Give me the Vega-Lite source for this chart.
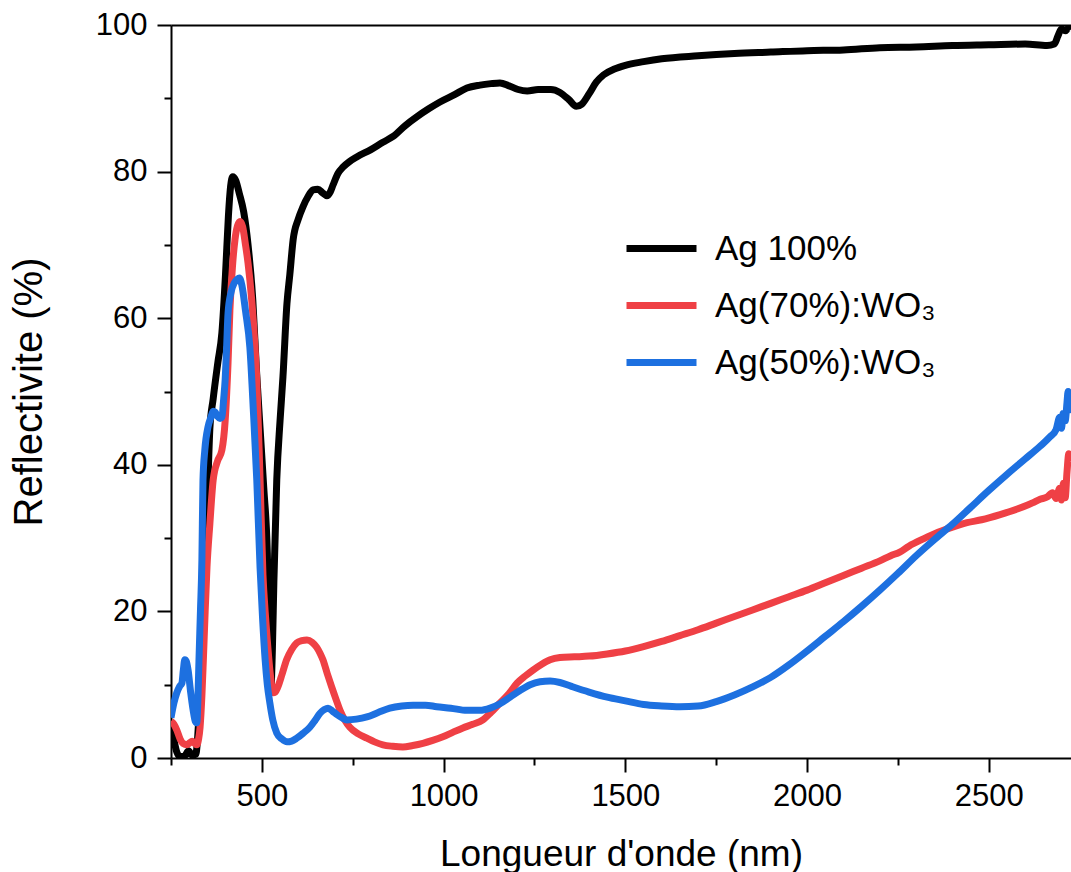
{
  "$schema": "https://vega.github.io/schema/vega-lite/v6.json",
  "width": 900,
  "height": 733,
  "autosize": "none",
  "padding": {"left": 171, "top": 25, "right": 0, "bottom": 114},
  "background": "white",
  "config": {
    "view": {"stroke": null},
    "axis": {
      "grid": false,
      "domainColor": "black",
      "domainWidth": 2,
      "tickColor": "black",
      "tickWidth": 2,
      "labelFont": "Liberation Sans",
      "labelFontSize": 31,
      "labelColor": "black",
      "titleFont": "Liberation Sans",
      "titleFontWeight": "normal",
      "titleColor": "black",
      "titleFontSize": 37
    },
    "legend": {"labelFont": "Liberation Sans"}
  },
  "data": {"values": [
    {"s":"Ag 100%","w":250,"r":4.5},{"s":"Ag 100%","w":258,"r":2.5},{"s":"Ag 100%","w":266,"r":0.8},{"s":"Ag 100%","w":275,"r":0.2},{"s":"Ag 100%","w":288,"r":0.3},{"s":"Ag 100%","w":298,"r":1.0},{"s":"Ag 100%","w":308,"r":0.4},{"s":"Ag 100%","w":318,"r":0.5},{"s":"Ag 100%","w":326,"r":5},{"s":"Ag 100%","w":333,"r":13},{"s":"Ag 100%","w":343,"r":24},{"s":"Ag 100%","w":350,"r":35},{"s":"Ag 100%","w":357,"r":45},{"s":"Ag 100%","w":366,"r":49},{"s":"Ag 100%","w":379,"r":54},{"s":"Ag 100%","w":390,"r":58},{"s":"Ag 100%","w":400,"r":66},{"s":"Ag 100%","w":408,"r":74},{"s":"Ag 100%","w":414,"r":78},{"s":"Ag 100%","w":420,"r":79.3},{"s":"Ag 100%","w":428,"r":78.8},{"s":"Ag 100%","w":438,"r":77},{"s":"Ag 100%","w":450,"r":74.5},{"s":"Ag 100%","w":462,"r":70},{"s":"Ag 100%","w":475,"r":62.5},{"s":"Ag 100%","w":485,"r":53},{"s":"Ag 100%","w":495,"r":45},{"s":"Ag 100%","w":505,"r":37},{"s":"Ag 100%","w":515,"r":28},{"s":"Ag 100%","w":521,"r":15},{"s":"Ag 100%","w":525,"r":9.7},{"s":"Ag 100%","w":529,"r":15},{"s":"Ag 100%","w":533,"r":24},{"s":"Ag 100%","w":541,"r":38},{"s":"Ag 100%","w":550,"r":46},{"s":"Ag 100%","w":558,"r":52},{"s":"Ag 100%","w":569,"r":62},{"s":"Ag 100%","w":577,"r":66},{"s":"Ag 100%","w":586,"r":70.7},{"s":"Ag 100%","w":600,"r":73.5},{"s":"Ag 100%","w":613,"r":75.2},{"s":"Ag 100%","w":627,"r":76.6},{"s":"Ag 100%","w":641,"r":77.5},{"s":"Ag 100%","w":654,"r":77.6},{"s":"Ag 100%","w":667,"r":77.1},{"s":"Ag 100%","w":679,"r":76.7},{"s":"Ag 100%","w":688,"r":77.2},{"s":"Ag 100%","w":696,"r":78.2},{"s":"Ag 100%","w":710,"r":79.8},{"s":"Ag 100%","w":723,"r":80.6},{"s":"Ag 100%","w":742,"r":81.4},{"s":"Ag 100%","w":761,"r":82},{"s":"Ag 100%","w":800,"r":83},{"s":"Ag 100%","w":833,"r":84},{"s":"Ag 100%","w":861,"r":84.8},{"s":"Ag 100%","w":895,"r":86.3},{"s":"Ag 100%","w":927,"r":87.5},{"s":"Ag 100%","w":960,"r":88.6},{"s":"Ag 100%","w":990,"r":89.5},{"s":"Ag 100%","w":1030,"r":90.5},{"s":"Ag 100%","w":1064,"r":91.4},{"s":"Ag 100%","w":1100,"r":91.8},{"s":"Ag 100%","w":1130,"r":92},{"s":"Ag 100%","w":1155,"r":92.1},{"s":"Ag 100%","w":1180,"r":91.7},{"s":"Ag 100%","w":1205,"r":91.2},{"s":"Ag 100%","w":1230,"r":91},{"s":"Ag 100%","w":1260,"r":91.2},{"s":"Ag 100%","w":1295,"r":91.2},{"s":"Ag 100%","w":1320,"r":90.8},{"s":"Ag 100%","w":1345,"r":89.8},{"s":"Ag 100%","w":1365,"r":88.9},{"s":"Ag 100%","w":1380,"r":89.2},{"s":"Ag 100%","w":1400,"r":90.6},{"s":"Ag 100%","w":1420,"r":92.2},{"s":"Ag 100%","w":1440,"r":93.2},{"s":"Ag 100%","w":1470,"r":94},{"s":"Ag 100%","w":1500,"r":94.5},{"s":"Ag 100%","w":1550,"r":95},{"s":"Ag 100%","w":1600,"r":95.4},{"s":"Ag 100%","w":1700,"r":95.8},{"s":"Ag 100%","w":1800,"r":96.1},{"s":"Ag 100%","w":1900,"r":96.3},{"s":"Ag 100%","w":2000,"r":96.5},{"s":"Ag 100%","w":2100,"r":96.6},{"s":"Ag 100%","w":2200,"r":96.9},{"s":"Ag 100%","w":2300,"r":97.0},{"s":"Ag 100%","w":2400,"r":97.2},{"s":"Ag 100%","w":2500,"r":97.3},{"s":"Ag 100%","w":2600,"r":97.4},{"s":"Ag 100%","w":2660,"r":97.2},{"s":"Ag 100%","w":2680,"r":97.4},{"s":"Ag 100%","w":2690,"r":98.5},{"s":"Ag 100%","w":2700,"r":99.5},{"s":"Ag 100%","w":2710,"r":99.2},{"s":"Ag 100%","w":2720,"r":99.6},{"s":"Ag 100%","w":2726,"r":99.4},

    {"s":"Ag(70%):WO₃","w":250,"r":5},{"s":"Ag(70%):WO₃","w":258,"r":4.6},{"s":"Ag(70%):WO₃","w":266,"r":3.8},{"s":"Ag(70%):WO₃","w":275,"r":2.6},{"s":"Ag(70%):WO₃","w":283,"r":2},{"s":"Ag(70%):WO₃","w":294,"r":1.8},{"s":"Ag(70%):WO₃","w":302,"r":2.1},{"s":"Ag(70%):WO₃","w":308,"r":2.3},{"s":"Ag(70%):WO₃","w":315,"r":2},{"s":"Ag(70%):WO₃","w":321,"r":1.8},{"s":"Ag(70%):WO₃","w":326,"r":2.6},{"s":"Ag(70%):WO₃","w":330,"r":4.2},{"s":"Ag(70%):WO₃","w":335,"r":8.5},{"s":"Ag(70%):WO₃","w":339,"r":13.4},{"s":"Ag(70%):WO₃","w":344,"r":20},{"s":"Ag(70%):WO₃","w":349,"r":26},{"s":"Ag(70%):WO₃","w":357,"r":32},{"s":"Ag(70%):WO₃","w":366,"r":37.9},{"s":"Ag(70%):WO₃","w":378,"r":40.5},{"s":"Ag(70%):WO₃","w":390,"r":42},{"s":"Ag(70%):WO₃","w":399,"r":46},{"s":"Ag(70%):WO₃","w":407,"r":54},{"s":"Ag(70%):WO₃","w":412,"r":61},{"s":"Ag(70%):WO₃","w":419,"r":67},{"s":"Ag(70%):WO₃","w":426,"r":70.7},{"s":"Ag(70%):WO₃","w":433,"r":72.6},{"s":"Ag(70%):WO₃","w":440,"r":73.2},{"s":"Ag(70%):WO₃","w":447,"r":72.5},{"s":"Ag(70%):WO₃","w":455,"r":70},{"s":"Ag(70%):WO₃","w":462,"r":67.5},{"s":"Ag(70%):WO₃","w":472,"r":62.5},{"s":"Ag(70%):WO₃","w":480,"r":57},{"s":"Ag(70%):WO₃","w":486,"r":51.6},{"s":"Ag(70%):WO₃","w":495,"r":38},{"s":"Ag(70%):WO₃","w":503,"r":25},{"s":"Ag(70%):WO₃","w":509,"r":20},{"s":"Ag(70%):WO₃","w":515,"r":16},{"s":"Ag(70%):WO₃","w":522,"r":12},{"s":"Ag(70%):WO₃","w":527,"r":9.8},{"s":"Ag(70%):WO₃","w":531,"r":8.9},{"s":"Ag(70%):WO₃","w":537,"r":9},{"s":"Ag(70%):WO₃","w":544,"r":9.7},{"s":"Ag(70%):WO₃","w":556,"r":11.5},{"s":"Ag(70%):WO₃","w":568,"r":13.4},{"s":"Ag(70%):WO₃","w":582,"r":14.8},{"s":"Ag(70%):WO₃","w":596,"r":15.7},{"s":"Ag(70%):WO₃","w":610,"r":16},{"s":"Ag(70%):WO₃","w":624,"r":16.1},{"s":"Ag(70%):WO₃","w":638,"r":15.8},{"s":"Ag(70%):WO₃","w":651,"r":15.1},{"s":"Ag(70%):WO₃","w":660,"r":14.3},{"s":"Ag(70%):WO₃","w":668,"r":13.4},{"s":"Ag(70%):WO₃","w":680,"r":11.5},{"s":"Ag(70%):WO₃","w":692,"r":9.7},{"s":"Ag(70%):WO₃","w":704,"r":8},{"s":"Ag(70%):WO₃","w":715,"r":6.5},{"s":"Ag(70%):WO₃","w":728,"r":5.2},{"s":"Ag(70%):WO₃","w":742,"r":4.2},{"s":"Ag(70%):WO₃","w":765,"r":3.3},{"s":"Ag(70%):WO₃","w":789,"r":2.7},{"s":"Ag(70%):WO₃","w":810,"r":2.2},{"s":"Ag(70%):WO₃","w":833,"r":1.8},{"s":"Ag(70%):WO₃","w":860,"r":1.6},{"s":"Ag(70%):WO₃","w":888,"r":1.5},{"s":"Ag(70%):WO₃","w":915,"r":1.7},{"s":"Ag(70%):WO₃","w":943,"r":2},{"s":"Ag(70%):WO₃","w":970,"r":2.4},{"s":"Ag(70%):WO₃","w":998,"r":2.9},{"s":"Ag(70%):WO₃","w":1025,"r":3.5},{"s":"Ag(70%):WO₃","w":1053,"r":4.1},{"s":"Ag(70%):WO₃","w":1080,"r":4.6},{"s":"Ag(70%):WO₃","w":1108,"r":5.2},{"s":"Ag(70%):WO₃","w":1130,"r":6.2},{"s":"Ag(70%):WO₃","w":1155,"r":7.5},{"s":"Ag(70%):WO₃","w":1180,"r":8.8},{"s":"Ag(70%):WO₃","w":1202,"r":10.2},{"s":"Ag(70%):WO₃","w":1225,"r":11.2},{"s":"Ag(70%):WO₃","w":1246,"r":12},{"s":"Ag(70%):WO₃","w":1270,"r":12.8},{"s":"Ag(70%):WO₃","w":1293,"r":13.4},{"s":"Ag(70%):WO₃","w":1320,"r":13.7},{"s":"Ag(70%):WO₃","w":1360,"r":13.8},{"s":"Ag(70%):WO₃","w":1400,"r":13.9},{"s":"Ag(70%):WO₃","w":1450,"r":14.2},{"s":"Ag(70%):WO₃","w":1500,"r":14.6},{"s":"Ag(70%):WO₃","w":1550,"r":15.2},{"s":"Ag(70%):WO₃","w":1600,"r":15.9},{"s":"Ag(70%):WO₃","w":1650,"r":16.7},{"s":"Ag(70%):WO₃","w":1700,"r":17.5},{"s":"Ag(70%):WO₃","w":1750,"r":18.4},{"s":"Ag(70%):WO₃","w":1800,"r":19.3},{"s":"Ag(70%):WO₃","w":1850,"r":20.2},{"s":"Ag(70%):WO₃","w":1900,"r":21.1},{"s":"Ag(70%):WO₃","w":1950,"r":22},{"s":"Ag(70%):WO₃","w":2000,"r":22.9},{"s":"Ag(70%):WO₃","w":2050,"r":23.9},{"s":"Ag(70%):WO₃","w":2100,"r":24.9},{"s":"Ag(70%):WO₃","w":2150,"r":25.9},{"s":"Ag(70%):WO₃","w":2200,"r":26.9},{"s":"Ag(70%):WO₃","w":2230,"r":27.6},{"s":"Ag(70%):WO₃","w":2255,"r":28.1},{"s":"Ag(70%):WO₃","w":2280,"r":28.9},{"s":"Ag(70%):WO₃","w":2320,"r":29.9},{"s":"Ag(70%):WO₃","w":2360,"r":30.8},{"s":"Ag(70%):WO₃","w":2400,"r":31.5},{"s":"Ag(70%):WO₃","w":2440,"r":32.1},{"s":"Ag(70%):WO₃","w":2480,"r":32.5},{"s":"Ag(70%):WO₃","w":2531,"r":33.2},{"s":"Ag(70%):WO₃","w":2580,"r":34},{"s":"Ag(70%):WO₃","w":2620,"r":34.8},{"s":"Ag(70%):WO₃","w":2641,"r":35.3},{"s":"Ag(70%):WO₃","w":2660,"r":35.6},{"s":"Ag(70%):WO₃","w":2675,"r":36.2},{"s":"Ag(70%):WO₃","w":2685,"r":35.4},{"s":"Ag(70%):WO₃","w":2695,"r":36.8},{"s":"Ag(70%):WO₃","w":2700,"r":35.2},{"s":"Ag(70%):WO₃","w":2705,"r":37.5},{"s":"Ag(70%):WO₃","w":2710,"r":35.5},{"s":"Ag(70%):WO₃","w":2715,"r":39},{"s":"Ag(70%):WO₃","w":2720,"r":41.5},{"s":"Ag(70%):WO₃","w":2726,"r":40.5},

    {"s":"Ag(50%):WO₃","w":250,"r":5.5},{"s":"Ag(50%):WO₃","w":258,"r":7.5},{"s":"Ag(50%):WO₃","w":266,"r":8.9},{"s":"Ag(50%):WO₃","w":274,"r":9.8},{"s":"Ag(50%):WO₃","w":280,"r":10.2},{"s":"Ag(50%):WO₃","w":284,"r":12},{"s":"Ag(50%):WO₃","w":288,"r":13.4},{"s":"Ag(50%):WO₃","w":292,"r":13.2},{"s":"Ag(50%):WO₃","w":297,"r":12},{"s":"Ag(50%):WO₃","w":304,"r":9},{"s":"Ag(50%):WO₃","w":311,"r":6.5},{"s":"Ag(50%):WO₃","w":317,"r":5},{"s":"Ag(50%):WO₃","w":321,"r":4.8},{"s":"Ag(50%):WO₃","w":324,"r":8},{"s":"Ag(50%):WO₃","w":327,"r":13.4},{"s":"Ag(50%):WO₃","w":331,"r":20},{"s":"Ag(50%):WO₃","w":335,"r":27},{"s":"Ag(50%):WO₃","w":338,"r":37.9},{"s":"Ag(50%):WO₃","w":343,"r":42},{"s":"Ag(50%):WO₃","w":352,"r":45.2},{"s":"Ag(50%):WO₃","w":360,"r":46.5},{"s":"Ag(50%):WO₃","w":366,"r":47.3},{"s":"Ag(50%):WO₃","w":371,"r":47.2},{"s":"Ag(50%):WO₃","w":378,"r":46.6},{"s":"Ag(50%):WO₃","w":385,"r":46.3},{"s":"Ag(50%):WO₃","w":390,"r":46.5},{"s":"Ag(50%):WO₃","w":395,"r":49},{"s":"Ag(50%):WO₃","w":399,"r":51.6},{"s":"Ag(50%):WO₃","w":403,"r":56},{"s":"Ag(50%):WO₃","w":407,"r":60.7},{"s":"Ag(50%):WO₃","w":415,"r":63.5},{"s":"Ag(50%):WO₃","w":424,"r":64.8},{"s":"Ag(50%):WO₃","w":432,"r":65.3},{"s":"Ag(50%):WO₃","w":438,"r":65.5},{"s":"Ag(50%):WO₃","w":445,"r":64.5},{"s":"Ag(50%):WO₃","w":455,"r":61},{"s":"Ag(50%):WO₃","w":467,"r":56},{"s":"Ag(50%):WO₃","w":477,"r":47},{"s":"Ag(50%):WO₃","w":486,"r":37.9},{"s":"Ag(50%):WO₃","w":495,"r":26},{"s":"Ag(50%):WO₃","w":502,"r":19},{"s":"Ag(50%):WO₃","w":509,"r":13.4},{"s":"Ag(50%):WO₃","w":515,"r":10},{"s":"Ag(50%):WO₃","w":522,"r":7.5},{"s":"Ag(50%):WO₃","w":530,"r":5.2},{"s":"Ag(50%):WO₃","w":541,"r":3.4},{"s":"Ag(50%):WO₃","w":555,"r":2.6},{"s":"Ag(50%):WO₃","w":569,"r":2.2},{"s":"Ag(50%):WO₃","w":582,"r":2.3},{"s":"Ag(50%):WO₃","w":596,"r":2.7},{"s":"Ag(50%):WO₃","w":614,"r":3.4},{"s":"Ag(50%):WO₃","w":632,"r":4.2},{"s":"Ag(50%):WO₃","w":646,"r":5.1},{"s":"Ag(50%):WO₃","w":660,"r":6.1},{"s":"Ag(50%):WO₃","w":672,"r":6.6},{"s":"Ag(50%):WO₃","w":682,"r":6.8},{"s":"Ag(50%):WO₃","w":694,"r":6.4},{"s":"Ag(50%):WO₃","w":707,"r":5.9},{"s":"Ag(50%):WO₃","w":720,"r":5.5},{"s":"Ag(50%):WO₃","w":734,"r":5.2},{"s":"Ag(50%):WO₃","w":760,"r":5.3},{"s":"Ag(50%):WO₃","w":789,"r":5.6},{"s":"Ag(50%):WO₃","w":820,"r":6.2},{"s":"Ag(50%):WO₃","w":852,"r":6.8},{"s":"Ag(50%):WO₃","w":885,"r":7.1},{"s":"Ag(50%):WO₃","w":916,"r":7.2},{"s":"Ag(50%):WO₃","w":950,"r":7.2},{"s":"Ag(50%):WO₃","w":981,"r":7},{"s":"Ag(50%):WO₃","w":1020,"r":6.8},{"s":"Ag(50%):WO₃","w":1064,"r":6.5},{"s":"Ag(50%):WO₃","w":1100,"r":6.5},{"s":"Ag(50%):WO₃","w":1128,"r":6.8},{"s":"Ag(50%):WO₃","w":1155,"r":7.4},{"s":"Ag(50%):WO₃","w":1183,"r":8.3},{"s":"Ag(50%):WO₃","w":1210,"r":9.2},{"s":"Ag(50%):WO₃","w":1238,"r":10},{"s":"Ag(50%):WO₃","w":1265,"r":10.4},{"s":"Ag(50%):WO₃","w":1293,"r":10.5},{"s":"Ag(50%):WO₃","w":1320,"r":10.3},{"s":"Ag(50%):WO₃","w":1350,"r":9.8},{"s":"Ag(50%):WO₃","w":1400,"r":9.0},{"s":"Ag(50%):WO₃","w":1450,"r":8.3},{"s":"Ag(50%):WO₃","w":1500,"r":7.8},{"s":"Ag(50%):WO₃","w":1550,"r":7.3},{"s":"Ag(50%):WO₃","w":1600,"r":7.1},{"s":"Ag(50%):WO₃","w":1650,"r":7.0},{"s":"Ag(50%):WO₃","w":1700,"r":7.1},{"s":"Ag(50%):WO₃","w":1750,"r":7.7},{"s":"Ag(50%):WO₃","w":1800,"r":8.6},{"s":"Ag(50%):WO₃","w":1850,"r":9.7},{"s":"Ag(50%):WO₃","w":1900,"r":11},{"s":"Ag(50%):WO₃","w":1950,"r":12.7},{"s":"Ag(50%):WO₃","w":2000,"r":14.6},{"s":"Ag(50%):WO₃","w":2050,"r":16.6},{"s":"Ag(50%):WO₃","w":2100,"r":18.6},{"s":"Ag(50%):WO₃","w":2150,"r":20.7},{"s":"Ag(50%):WO₃","w":2200,"r":22.9},{"s":"Ag(50%):WO₃","w":2250,"r":25.2},{"s":"Ag(50%):WO₃","w":2300,"r":27.6},{"s":"Ag(50%):WO₃","w":2350,"r":29.8},{"s":"Ag(50%):WO₃","w":2400,"r":31.9},{"s":"Ag(50%):WO₃","w":2450,"r":34.2},{"s":"Ag(50%):WO₃","w":2500,"r":36.5},{"s":"Ag(50%):WO₃","w":2550,"r":38.7},{"s":"Ag(50%):WO₃","w":2600,"r":40.8},{"s":"Ag(50%):WO₃","w":2640,"r":42.5},{"s":"Ag(50%):WO₃","w":2668,"r":43.8},{"s":"Ag(50%):WO₃","w":2685,"r":44.8},{"s":"Ag(50%):WO₃","w":2695,"r":46.5},{"s":"Ag(50%):WO₃","w":2700,"r":45},{"s":"Ag(50%):WO₃","w":2704,"r":47},{"s":"Ag(50%):WO₃","w":2710,"r":46},{"s":"Ag(50%):WO₃","w":2715,"r":48.5},{"s":"Ag(50%):WO₃","w":2718,"r":50},{"s":"Ag(50%):WO₃","w":2722,"r":47.5},{"s":"Ag(50%):WO₃","w":2726,"r":48.8}
  ]},
  "encoding": {
    "x": {"field": "w", "type": "quantitative", "scale": {"domain": [250, 2726], "nice": false, "zero": false}},
    "y": {"field": "r", "type": "quantitative", "scale": {"domain": [0, 100], "nice": false},
      "axis": {
        "orient": "left",
        "values": [0,10,20,30,40,50,60,70,80,90,100],
        "format": "d",
        "labelExpr": "datum.value % 20 === 0 ? datum.label : ''",
        "tickSize": {"condition": {"test": "datum.value % 20 === 0", "value": 14}, "value": 7},
        "labelPadding": 10,
        "title": "Reflectivite (%)",
        "titleFontSize": 40,
        "titlePadding": 46
      }
    },
    "color": {"field": "s", "type": "nominal",
      "scale": {"domain": ["Ag 100%", "Ag(70%):WO₃", "Ag(50%):WO₃"], "range": ["#000000", "#EF4045", "#1D70E0"]},
      "legend": {
        "orient": "none", "legendX": 452, "legendY": 185, "title": null,
        "symbolType": "stroke", "symbolSize": 4900, "symbolStrokeWidth": 7,
        "labelFontSize": 35, "labelColor": "black", "labelOffset": 15,
        "rowPadding": 0, "padding": 0, "labelLimit": 400
      }
    }
  },
  "layer": [
    {
      "transform": [{"filter": "datum.s === 'Ag 100%'"}],
      "mark": {"type": "line", "strokeWidth": 7, "interpolate": "monotone", "clip": true, "strokeJoin": "round"},
      "encoding": {
        "x": {"field": "w", "type": "quantitative",
          "axis": {
            "orient": "bottom",
            "values": [250,500,750,1000,1250,1500,1750,2000,2250,2500],
            "format": "d",
            "labelExpr": "datum.value % 500 === 0 ? datum.label : ''",
            "tickSize": {"condition": {"test": "datum.value % 500 === 0", "value": 14}, "value": 7},
            "labelPadding": 9,
            "labelFlush": false,
            "title": "Longueur d'onde (nm)",
            "titlePadding": 25
          }
        }
      }
    },
    {
      "transform": [{"filter": "datum.s === 'Ag(70%):WO₃'"}],
      "mark": {"type": "line", "strokeWidth": 7, "interpolate": "monotone", "clip": true, "strokeJoin": "round"},
      "encoding": {"x": {"field": "w", "type": "quantitative", "axis": null}}
    },
    {
      "transform": [{"filter": "datum.s === 'Ag(50%):WO₃'"}],
      "mark": {"type": "line", "strokeWidth": 7, "interpolate": "monotone", "clip": true, "strokeJoin": "round"},
      "encoding": {"x": {"field": "w", "type": "quantitative", "axis": null}}
    },
    {
      "transform": [{"filter": "datum.w < 0"}],
      "mark": {"type": "point", "opacity": 0},
      "encoding": {
        "x": {"field": "w", "type": "quantitative",
          "axis": {"orient": "top", "labels": false, "ticks": false, "title": null, "domainWidth": 2}
        },
        "color": {"value": "black"}
      }
    }
  ],
  "resolve": {"axis": {"x": "independent"}}
}
